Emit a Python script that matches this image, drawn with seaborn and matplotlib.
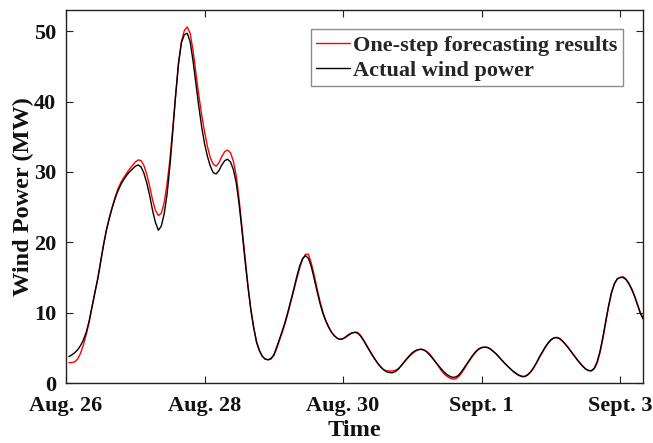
import numpy as np
import pandas as pd
import matplotlib
matplotlib.use("Agg")
import matplotlib.pyplot as plt
import seaborn as sns

# Hours since Aug. 26 00:00
hours = list(range(1, 201))

actual = [
    3.75, 4.0, 4.3, 4.7, 5.3, 6.1, 7.2, 8.8, 10.8, 12.8,
    14.8, 17.2, 19.6, 21.7, 23.4, 24.9, 26.2, 27.3, 28.2, 28.9,
    29.5, 30.0, 30.4, 30.8, 31.0, 30.7, 29.8, 28.4, 26.6, 24.5,
    22.8, 21.7, 22.3, 24.0, 26.8, 30.8, 35.8, 41.0, 45.6, 48.4,
    49.5, 49.7, 48.5, 45.8, 42.5, 39.3, 36.4, 34.0, 32.2, 30.8,
    29.9, 29.7, 30.2, 31.0, 31.6, 31.8, 31.4, 30.3, 28.4, 25.3,
    21.5, 17.5, 13.8, 10.5, 7.9, 5.8, 4.6, 3.8, 3.4, 3.3,
    3.5, 4.0, 5.1, 6.3, 7.5, 8.8, 10.3, 11.9, 13.5, 15.2,
    16.7, 17.7, 18.1, 17.7, 16.5, 14.8, 13.0, 11.3, 9.9, 8.8,
    7.9, 7.2, 6.7, 6.35, 6.2, 6.3, 6.6, 6.9, 7.1, 7.2,
    7.1, 6.7, 6.1, 5.4, 4.7, 4.0, 3.4, 2.8, 2.3, 1.9,
    1.6, 1.5, 1.45, 1.6, 1.9, 2.4, 2.9, 3.4, 3.9, 4.3,
    4.6, 4.75, 4.8, 4.7, 4.4, 4.0, 3.5, 3.0, 2.5, 2.0,
    1.55, 1.2, 0.95, 0.8, 0.85, 1.1, 1.6, 2.2, 2.8, 3.4,
    4.0, 4.5, 4.85, 5.05, 5.1, 5.05, 4.85, 4.5, 4.15, 3.7,
    3.25, 2.8, 2.4, 2.0, 1.65, 1.35, 1.1, 0.95, 0.95, 1.2,
    1.6, 2.2, 2.9, 3.7, 4.4, 5.1, 5.7, 6.15, 6.4, 6.45,
    6.3, 5.95, 5.5, 5.0, 4.45, 3.9, 3.35, 2.85, 2.4, 2.0,
    1.8, 1.75, 2.1, 3.0, 4.5, 6.5, 8.8, 11.0, 12.9, 14.1,
    14.8, 15.0, 15.0, 14.7, 14.1, 13.3, 12.3, 11.1, 9.9, 9.1,
]

forecast = [
    2.9, 2.9, 3.0, 3.4, 4.2, 5.4, 6.9, 8.6, 10.8, 12.9,
    14.9, 17.3, 19.7, 21.8, 23.5, 25.0, 26.4, 27.6, 28.5, 29.2,
    29.8, 30.4, 30.9, 31.4, 31.7, 31.6, 30.9, 29.6, 27.9, 26.0,
    24.5, 23.8, 24.1, 25.6, 28.3, 31.8, 36.3, 41.0, 45.4, 48.5,
    50.1, 50.6, 49.7, 47.3, 44.1, 40.9, 38.1, 35.7, 33.6, 32.0,
    31.1, 30.8, 31.3, 32.2, 32.9, 33.1, 32.7, 31.5, 29.4, 26.0,
    22.0, 17.9, 14.0, 10.6, 8.0, 5.9, 4.6, 3.8, 3.4, 3.3,
    3.4, 3.9, 4.9, 6.1, 7.3, 8.6, 10.1, 11.7, 13.3, 14.9,
    16.4, 17.6, 18.3, 18.3, 17.0, 15.3, 13.4, 11.6, 10.1, 8.9,
    8.0, 7.2, 6.7, 6.35, 6.2, 6.3, 6.5, 6.8, 7.1, 7.2,
    7.2, 6.8, 6.2, 5.5, 4.8, 4.1, 3.4, 2.8, 2.3, 1.9,
    1.75, 1.7, 1.7, 1.8, 2.0, 2.4, 2.9, 3.4, 3.8, 4.2,
    4.5, 4.7, 4.8, 4.7, 4.5, 4.1, 3.6, 3.0, 2.4, 1.8,
    1.3, 0.95, 0.7, 0.55, 0.6, 0.9, 1.4, 2.0, 2.7, 3.3,
    3.9, 4.4, 4.8, 5.0, 5.1, 5.05, 4.85, 4.5, 4.15, 3.7,
    3.25, 2.8, 2.4, 2.0, 1.6, 1.3, 1.05, 0.9, 0.9, 1.15,
    1.55, 2.1, 2.8, 3.6, 4.3, 5.0, 5.6, 6.1, 6.4, 6.5,
    6.35, 6.0, 5.55, 5.05, 4.5, 3.95, 3.4, 2.9, 2.4, 2.0,
    1.75, 1.7, 2.0, 2.8, 4.3, 6.3, 8.6, 10.9, 12.8, 14.1,
    14.8, 15.0, 15.1, 14.8, 14.2, 13.4, 12.4, 11.2, 10.0, 9.1,
]

series_names = ["One-step forecasting results", "Actual wind power"]
series_colors = ["#ff0000", "#000000"]

tick_hours = [0, 48, 96, 144, 192]
tick_labels = ["Aug. 26", "Aug. 28", "Aug. 30", "Sept. 1", "Sept. 3"]
y_ticks = [0, 10, 20, 30, 40, 50]

df = pd.DataFrame({
    "hour": hours * 2,
    "power": forecast + actual,
    "series": [series_names[0]] * len(hours) + [series_names[1]] * len(hours),
})

sns.set_style("ticks")
plt.rcParams["font.family"] = ["Liberation Serif", "DejaVu Serif"]
plt.rcParams["font.weight"] = "bold"
plt.rcParams["axes.labelweight"] = "bold"

fig = plt.figure(figsize=(6.53, 4.43), dpi=100)
ax = fig.add_axes([0.1011, 0.1354, 0.8840, 0.8420])

sns.lineplot(
    data=df, x="hour", y="power", hue="series",
    hue_order=series_names, palette=series_colors,
    linewidth=1.0, ax=ax,
)

ax.set_xlim(0, 200)
ax.set_ylim(0, 53)
ax.set_xticks(tick_hours)
ax.set_xticklabels(tick_labels)
ax.set_yticks(y_ticks)

ax.tick_params(axis="both", which="both", direction="in", length=5, width=0.8,
               top=True, right=True, labelsize=16, colors="#222222",
               labelcolor="#111111")
ax.tick_params(axis="x", pad=9)
ax.tick_params(axis="y", pad=7)
for lab in ax.get_xticklabels() + ax.get_yticklabels():
    lab.set_fontweight("bold")

for sp in ax.spines.values():
    sp.set_visible(True)
    sp.set_linewidth(1.0)
    sp.set_color("#222222")

ax.set_xlabel("Time", fontsize=17.5, fontweight="bold", labelpad=3, color="#111111")
ax.set_ylabel("Wind Power (MW)", fontsize=17.5, fontweight="bold", labelpad=0, color="#111111")

leg = ax.legend(
    loc="upper right", bbox_to_anchor=(0.965, 0.948),
    frameon=True, fancybox=False, fontsize=16,
    handlelength=1.5, handletextpad=0.15, borderpad=0.25,
    labelspacing=0.2, borderaxespad=0.0,
)
leg.get_frame().set_edgecolor("#707070")
leg.get_frame().set_linewidth(1.0)
for t in leg.get_texts():
    t.set_fontweight("bold")
for line in leg.get_lines():
    line.set_linewidth(1.0)

fig.savefig("out.png", dpi=100)
